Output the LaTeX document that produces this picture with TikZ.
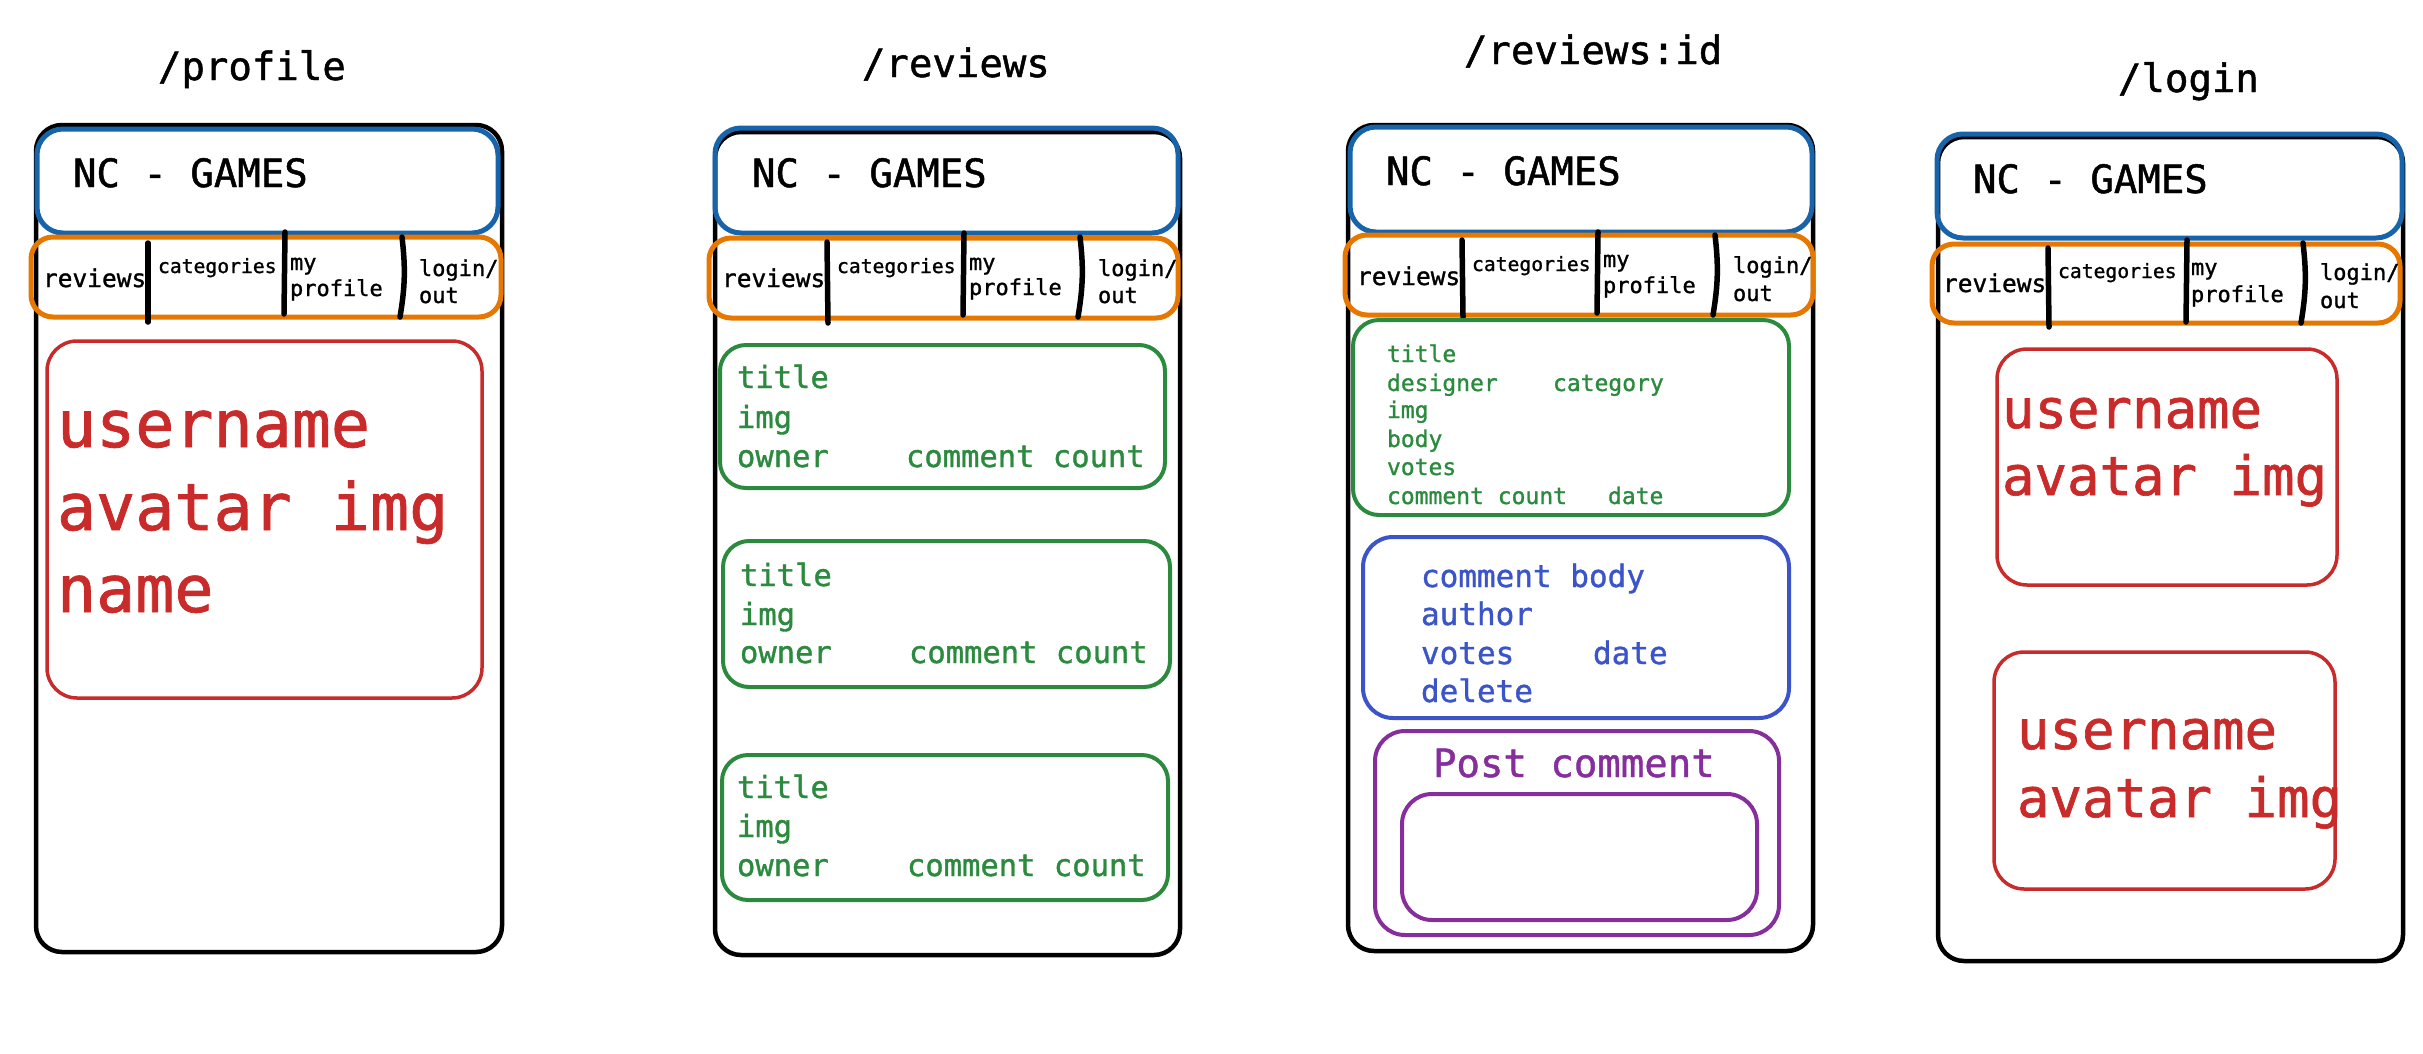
\documentclass[tikz,border=0pt]{standalone}
\usepackage{fontspec}
\setmonofont[FakeBold=1.2]{DejaVu Sans Mono}
\usepackage{xcolor}
\usepackage{tikz}
\definecolor{hdrblue}{HTML}{1864AB}
\definecolor{navorange}{HTML}{E67700}
\definecolor{userred}{HTML}{C92A2A}
\definecolor{cardgreen}{HTML}{2B8A3E}
\definecolor{cmtblue}{HTML}{3B55C9}
\definecolor{postpurple}{HTML}{862E9C}
\tikzset{
    phoneframe/.style={draw=black, line width=4.5pt, rounded corners=26pt},
    headbox/.style={draw=hdrblue, line width=5pt, rounded corners=26pt},
    navbox/.style={draw=navorange, line width=5pt, rounded corners=22pt},
    navsep/.style={draw=black, line width=5.5pt, line cap=round},
    redbox/.style={draw=userred, line width=3.5pt, rounded corners=30pt},
    greenbox/.style={draw=cardgreen, line width=4pt, rounded corners=26pt},
    bluebox/.style={draw=cmtblue, line width=4pt, rounded corners=30pt},
    purplebox/.style={draw=postpurple, line width=4pt, rounded corners=30pt},
    lbl/.style={anchor=base west, inner sep=0pt, outer sep=0pt},
    pagetitle/.style={lbl, font=\ttfamily\fontsize{39}{47}\selectfont},
    brand/.style={lbl, font=\ttfamily\fontsize{39}{47}\selectfont},
    navbig/.style={lbl, font=\ttfamily\fontsize{24.5}{29}\selectfont},
    navsmall/.style={lbl, font=\ttfamily\fontsize{19.7}{24}\selectfont},
    navtwo/.style={lbl, font=\ttfamily\fontsize{22}{26}\selectfont},
    userhuge/.style={lbl, userred, font=\ttfamily\fontsize{65}{78}\selectfont},
    userbig/.style={lbl, userred, font=\ttfamily\fontsize{54}{65}\selectfont},
    cardtext/.style={lbl, cardgreen, font=\ttfamily\fontsize{30.5}{37}\selectfont},
    detailtext/.style={lbl, cardgreen, font=\ttfamily\fontsize{23}{28}\selectfont},
    cmttext/.style={lbl, cmtblue, font=\ttfamily\fontsize{31}{37}\selectfont},
    posttext/.style={lbl, postpurple, font=\ttfamily\fontsize{39}{47}\selectfont}
}
\begin{document}
\begin{tikzpicture}[x=1pt, y=-1pt]
    \useasboundingbox (0,0) rectangle (2423,1053);

    \node[pagetitle] (t-profile) at (158,80) {/profile};
    \draw[phoneframe] (36,125) rectangle (502,952);
    \draw[headbox] (37,129) rectangle (498,233);
    \node[brand] (h-profile) at (73,187) {NC - GAMES};
    \draw[navbox] (31,237) rectangle (501,317);
    \draw[navsep] (148,243) -- (148,322);
    \draw[navsep] (285,232) -- (284,314);
    \draw[navsep] (402,237) to[bend left=8] (400,317);
    \node[navbig] (p-rev) at (43,287) {reviews};
    \node[navsmall] (p-cat) at (158,273) {categories};
    \node[navtwo] (p-my) at (290,270) {my};
    \node[navtwo] (p-prof) at (290,296) {profile};
    \node[navtwo] (p-log) at (419,276) {login/};
    \node[navtwo] (p-out) at (419,303) {out};
    \draw[redbox] (47,341) rectangle (482,698);
    \node[userhuge] (p-user) at (57,447) {username};
    \node[userhuge] (p-avatar) at (57,530) {avatar img};
    \node[userhuge] (p-name) at (57,612) {name};

    \node[pagetitle] (t-reviews) at (862,77) {/reviews};
    \draw[phoneframe] (715,132) rectangle (1180,955);
    \draw[headbox] (715,128) rectangle (1178,233);
    \node[brand] (h-reviews) at (752,187) {NC - GAMES};
    \draw[navbox] (709,238) rectangle (1178,318);
    \draw[navsep] (827,242) -- (828,323);
    \draw[navsep] (964,233) -- (963,315);
    \draw[navsep] (1080,237) to[bend left=8] (1078,317);
    \node[navbig] (r-rev) at (722,287) {reviews};
    \node[navsmall] (r-cat) at (837,273) {categories};
    \node[navtwo] (r-my) at (969,270) {my};
    \node[navtwo] (r-prof) at (969,295) {profile};
    \node[navtwo] (r-log) at (1098,276) {login/};
    \node[navtwo] (r-out) at (1098,303) {out};
    \draw[greenbox] (720,345) rectangle (1165,488);
    \node[cardtext] (r1-title) at (737,388) {title};
    \node[cardtext] (r1-img) at (737,428) {img};
    \node[cardtext] (r1-owner) at (737,467) {owner};
    \node[cardtext] (r1-count) at (906,467) {comment count};
    \draw[greenbox] (723,541) rectangle (1170,687);
    \node[cardtext] (r2-title) at (740,586) {title};
    \node[cardtext] (r2-img) at (740,625) {img};
    \node[cardtext] (r2-owner) at (740,663) {owner};
    \node[cardtext] (r2-count) at (909,663) {comment count};
    \draw[greenbox] (722,755) rectangle (1168,900);
    \node[cardtext] (r3-title) at (737,798) {title};
    \node[cardtext] (r3-img) at (737,837) {img};
    \node[cardtext] (r3-owner) at (737,876) {owner};
    \node[cardtext] (r3-count) at (907,876) {comment count};

    \node[pagetitle] (t-single) at (1464,64) {/reviews:id};
    \draw[phoneframe] (1348,125) rectangle (1813,951);
    \draw[headbox] (1350,127) rectangle (1812,232);
    \node[brand] (h-single) at (1386,185) {NC - GAMES};
    \draw[navbox] (1345,235) rectangle (1813,315);
    \draw[navsep] (1462,240) -- (1463,317);
    \draw[navsep] (1598,232) -- (1597,313);
    \draw[navsep] (1715,235) to[bend left=8] (1713,315);
    \node[navbig] (s-rev) at (1357,285) {reviews};
    \node[navsmall] (s-cat) at (1472,271) {categories};
    \node[navtwo] (s-my) at (1603,267) {my};
    \node[navtwo] (s-prof) at (1603,293) {profile};
    \node[navtwo] (s-log) at (1733,273) {login/};
    \node[navtwo] (s-out) at (1733,301) {out};
    \draw[greenbox] (1353,320) rectangle (1789,515);
    \node[detailtext] (s-title) at (1387,362) {title};
    \node[detailtext] (s-designer) at (1387,391) {designer};
    \node[detailtext] (s-category) at (1553,391) {category};
    \node[detailtext] (s-img) at (1387,418) {img};
    \node[detailtext] (s-body) at (1387,447) {body};
    \node[detailtext] (s-votes) at (1387,475) {votes};
    \node[detailtext] (s-count) at (1387,504) {comment count};
    \node[detailtext] (s-date) at (1608,504) {date};
    \draw[bluebox] (1363,537) rectangle (1789,718);
    \node[cmttext] (c-body) at (1421,587) {comment body};
    \node[cmttext] (c-author) at (1421,625) {author};
    \node[cmttext] (c-votes) at (1421,664) {votes};
    \node[cmttext] (c-date) at (1593,664) {date};
    \node[cmttext] (c-delete) at (1421,702) {delete};
    \draw[purplebox] (1375,731) rectangle (1779,935);
    \node[posttext] (c-post) at (1433,777) {Post comment};
    \draw[purplebox] (1402,794) rectangle (1757,920);

    \node[pagetitle] (t-login) at (2118,92) {/login};
    \draw[phoneframe] (1938,137) rectangle (2403,961);
    \draw[headbox] (1937,134) rectangle (2402,238);
    \node[brand] (h-login) at (1973,193) {NC - GAMES};
    \draw[navbox] (1932,244) rectangle (2400,323);
    \draw[navsep] (2048,248) -- (2049,327);
    \draw[navsep] (2187,240) -- (2186,322);
    \draw[navsep] (2303,243) to[bend left=8] (2301,323);
    \node[navbig] (l-rev) at (1943,292) {reviews};
    \node[navsmall] (l-cat) at (2058,278) {categories};
    \node[navtwo] (l-my) at (2191,275) {my};
    \node[navtwo] (l-prof) at (2191,302) {profile};
    \node[navtwo] (l-log) at (2320,280) {login/};
    \node[navtwo] (l-out) at (2320,308) {out};
    \draw[redbox] (1997,349) rectangle (2337,585);
    \node[userbig] (l1-user) at (2002,428) {username};
    \node[userbig] (l1-avatar) at (2002,495) {avatar img};
    \draw[redbox] (1994,652) rectangle (2335,889);
    \node[userbig] (l2-user) at (2017,749) {username};
    \node[userbig] (l2-avatar) at (2017,817) {avatar img};
\end{tikzpicture}
\end{document}
